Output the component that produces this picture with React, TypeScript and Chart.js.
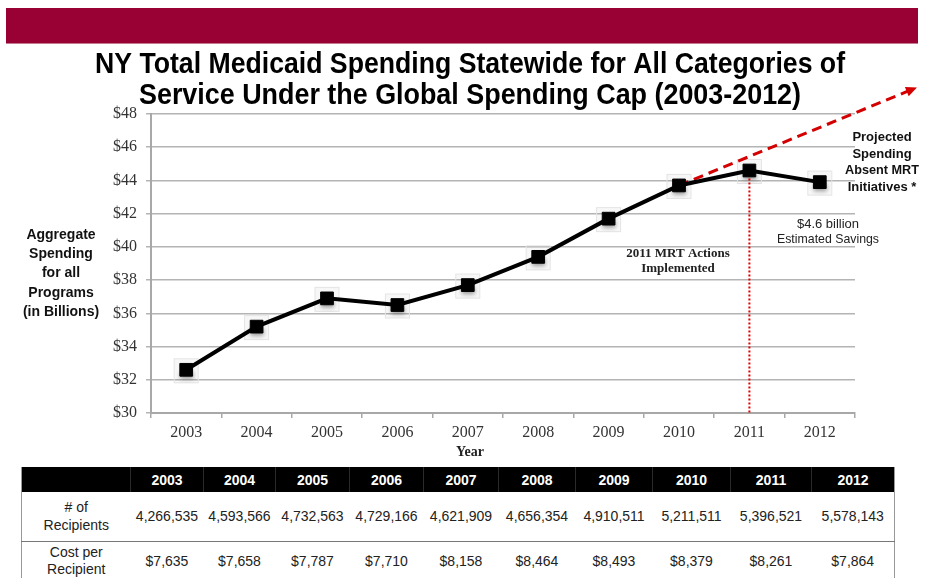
import React, { useEffect, useRef } from "react";
import { Chart, registerables } from "chart.js";

Chart.register(...registerables);

// ---------- data ----------
const years = ["2003", "2004", "2005", "2006", "2007", "2008", "2009", "2010", "2011", "2012"];
const spending = [32.6, 35.2, 36.9, 36.5, 37.7, 39.4, 41.7, 43.7, 44.6, 43.9];
const yMin = 30;
const yMax = 48;
const yStep = 2;
const recipients = ["4,266,535", "4,593,566", "4,732,563", "4,729,166", "4,621,909", "4,656,354", "4,910,511", "5,211,511", "5,396,521", "5,578,143"];
const costPerRecipient = ["$7,635", "$7,658", "$7,787", "$7,710", "$8,158", "$8,464", "$8,493", "$8,379", "$8,261", "$7,864"];
const projectionStartYear = "2010";
const projectionEndIndex = 10.38; // position along year axis (category index)
const projectionEndValue = 49.6; // $ billions
const mrtYear = "2011";

const titleLines = [
  "NY Total Medicaid Spending Statewide for All Categories of",
  "Service Under the Global Spending Cap (2003-2012)",
];
const yTitleLines = ["Aggregate", "Spending", "for all", "Programs", "(in Billions)"];
const projectedLabel = ["Projected", "Spending", "Absent MRT", "Initiatives *"];
const savingsLabel = ["$4.6 billion", "Estimated Savings"];
const mrtLabel = ["2011 MRT Actions", "Implemented"];

const colWidths = [109, 73, 72, 74, 74, 75, 77, 77, 78, 81, 83];

const SANS = '"Liberation Sans", Arial, Helvetica, sans-serif';
const SERIF = '"Liberation Serif", "Times New Roman", serif';

const annotationPlugin = {
  id: "annotations",
  beforeDatasetsDraw(chart: any) {
    const ctx = chart.ctx;
    const xs = chart.scales.x;
    const ys = chart.scales.y;
    const pts = chart.getDatasetMeta(0).data;
    ctx.save();
    // halos behind markers
    pts.forEach((p: any) => {
      ctx.fillStyle = "rgba(0,0,0,0.03)";
      ctx.strokeStyle = "#e4e4e4";
      ctx.lineWidth = 1;
      ctx.fillRect(p.x - 12, p.y - 11, 24, 24);
      ctx.strokeRect(p.x - 12, p.y - 11, 24, 24);
      ctx.filter = "blur(2px)";
      ctx.fillStyle = "rgba(90,90,90,0.6)";
      ctx.fillRect(p.x - 6, p.y + 2, 13, 7);
      ctx.filter = "none";
    });
    // vertical dotted MRT line
    const mi = years.indexOf(mrtYear);
    const mx = xs.getPixelForValue(mi);
    ctx.strokeStyle = "#e00000";
    ctx.lineWidth = 2;
    ctx.setLineDash([2, 2]);
    ctx.beginPath();
    ctx.moveTo(mx, ys.getPixelForValue(spending[mi]));
    ctx.lineTo(mx, ys.getPixelForValue(yMin));
    ctx.stroke();
    // dashed projection arrow
    const si = years.indexOf(projectionStartYear);
    const x0 = xs.getPixelForValue(si);
    const y0 = ys.getPixelForValue(spending[si]);
    const x1 = xs.getPixelForValue(projectionEndIndex);
    const y1 = ys.getPixelForValue(projectionEndValue);
    const ang = Math.atan2(y1 - y0, x1 - x0);
    ctx.strokeStyle = "#d40000";
    ctx.lineWidth = 3;
    ctx.setLineDash([10, 6]);
    ctx.beginPath();
    ctx.moveTo(x0, y0);
    ctx.lineTo(x1 - 8 * Math.cos(ang), y1 - 8 * Math.sin(ang));
    ctx.stroke();
    ctx.setLineDash([]);
    ctx.fillStyle = "#d40000";
    ctx.beginPath();
    ctx.moveTo(x1, y1);
    ctx.lineTo(x1 - 11 * Math.cos(ang) + 5 * Math.sin(ang), y1 - 11 * Math.sin(ang) - 5 * Math.cos(ang));
    ctx.lineTo(x1 - 11 * Math.cos(ang) - 5 * Math.sin(ang), y1 - 11 * Math.sin(ang) + 5 * Math.cos(ang));
    ctx.closePath();
    ctx.fill();
    ctx.restore();
  },
  afterDraw(chart: any) {
    const ctx = chart.ctx;
    ctx.save();
    ctx.textAlign = "center";
    ctx.textBaseline = "middle";
    // title
    ctx.fillStyle = "#000";
    ctx.font = `bold 29px ${SANS}`;
    ctx.fillText(titleLines[0], 470, 65, 750);
    ctx.fillText(titleLines[1], 470, 96, 662);
    // y-axis title
    ctx.fillStyle = "#111";
    ctx.font = `bold 14px ${SANS}`;
    yTitleLines.forEach((t, i) => ctx.fillText(t, 61, 235 + i * 19.3, 84));
    // x-axis title
    ctx.font = `bold 14px ${SERIF}`;
    ctx.fillStyle = "#222";
    ctx.fillText("Year", 470, 452);
    // MRT label
    ctx.font = `bold 13px ${SERIF}`;
    ctx.fillText(mrtLabel[0], 678, 254, 114);
    ctx.fillText(mrtLabel[1], 678, 269);
    // savings label
    ctx.font = `13px ${SANS}`;
    ctx.fillStyle = "#222";
    ctx.fillText(savingsLabel[0], 828, 224);
    ctx.fillText(savingsLabel[1], 828, 239, 102);
    // projected label
    ctx.font = `bold 13px ${SANS}`;
    ctx.fillStyle = "#111";
    const ys = [137, 154, 170, 187];
    projectedLabel.forEach((t, i) => ctx.fillText(t, 882, ys[i], 74));
    ctx.restore();
  },
};

export default function App() {
  const ref = useRef<HTMLCanvasElement>(null);
  useEffect(() => {
    if (!ref.current) return;
    const chart = new Chart(ref.current, {
      type: "line",
      data: {
        labels: years,
        datasets: [
          {
            data: spending,
            borderColor: "#000",
            borderWidth: 4,
            backgroundColor: "#000",
            pointStyle: "rect",
            pointRadius: 9,
            pointBorderWidth: 1,
            pointBorderColor: "#000",
            pointBackgroundColor: "#000",
            tension: 0,
          },
        ],
      },
      options: {
        responsive: false,
        animation: false,
        layout: { padding: { top: 114, right: 70, left: 0, bottom: 0 } },
        plugins: { legend: { display: false }, tooltip: { enabled: false }, title: { display: false } },
        scales: {
          x: {
            type: "category",
            offset: true,
            afterFit: (s: any) => {
              s.height = 52;
            },
            grid: { offset: true, drawOnChartArea: false, drawTicks: true, tickLength: 5, color: "#a8a8a8", lineWidth: 1.5 },
            border: { display: true, color: "#a8a8a8", width: 2 },
            ticks: { font: { family: SERIF, size: 16 }, color: "#333", padding: 5, maxRotation: 0 },
          },
          y: {
            min: yMin,
            max: yMax,
            afterFit: (s: any) => {
              s.width = 151;
            },
            ticks: {
              stepSize: yStep,
              callback: (v: any) => "$" + v,
              font: { family: SERIF, size: 16 },
              color: "#333",
              padding: 9,
            },
            grid: { color: "#b4b4b4", lineWidth: 1.5, tickLength: 5, drawTicks: true },
            border: { display: true, color: "#a8a8a8", width: 2 },
          },
        },
      },
      plugins: [annotationPlugin],
    } as any);
    return () => chart.destroy();
  }, []);

  const cellBase: React.CSSProperties = { textAlign: "center", padding: 0, verticalAlign: "middle" };

  return (
    <div style={{ position: "fixed", left: 0, top: 0, width: 925, height: 578, background: "#fff", overflow: "hidden" }}>
      <div style={{ position: "absolute", left: 6, top: 8, width: 912, height: 35, background: "#990033", borderBottom: "1px solid #c27a8f" }} />
      <canvas ref={ref} width={925} height={465} style={{ position: "absolute", left: 0, top: 0, width: 925, height: 465 }} />
      <table
        style={{
          position: "absolute",
          left: 21,
          top: 467,
          width: 873,
          borderCollapse: "collapse",
          tableLayout: "fixed",
          fontFamily: SANS,
          fontSize: 14,
          color: "#222",
          borderLeft: "1px solid #999",
          borderRight: "1px solid #999",
        }}
      >
        <colgroup>
          {colWidths.map((w, i) => (
            <col key={i} style={{ width: w }} />
          ))}
        </colgroup>
        <tbody>
          <tr style={{ height: 25, background: "#000", color: "#fff", fontWeight: "bold" }}>
            <td style={{ ...cellBase }} />
            {years.map((y) => (
              <td key={y} style={{ ...cellBase, borderLeft: "1px solid #2a2a2a" }}>
                {y}
              </td>
            ))}
          </tr>
          <tr style={{ height: 49, borderBottom: "1px solid #777" }}>
            <td style={{ ...cellBase, lineHeight: "18px" }}>
              # of
              <br />
              Recipients
            </td>
            {recipients.map((v, i) => (
              <td key={i} style={cellBase}>
                {v}
              </td>
            ))}
          </tr>
          <tr style={{ height: 40 }}>
            <td style={{ ...cellBase, lineHeight: "17px" }}>
              Cost per
              <br />
              Recipient
            </td>
            {costPerRecipient.map((v, i) => (
              <td key={i} style={cellBase}>
                {v}
              </td>
            ))}
          </tr>
        </tbody>
      </table>
    </div>
  );
}
